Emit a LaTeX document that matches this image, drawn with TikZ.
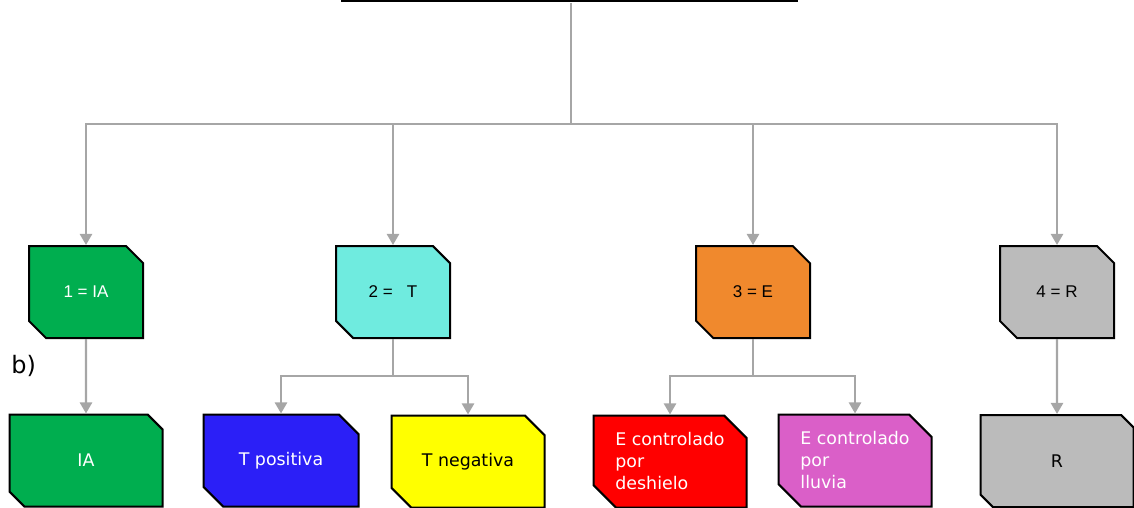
\documentclass[tikz,border=0pt]{standalone}
\usepackage{fontspec}
\setmainfont{DejaVu Sans}
\newfontfamily\arialfont{Liberation Sans}
\usetikzlibrary{arrows.meta,shapes.misc}

\definecolor{gris}{HTML}{A6A6A6}
\definecolor{verde}{HTML}{00AE4F}
\definecolor{turquesa}{HTML}{6FEBDF}
\definecolor{naranja}{HTML}{F0892D}
\definecolor{plomo}{HTML}{BBBBBB}
\definecolor{azul}{HTML}{2B1FF7}
\definecolor{amarillo}{HTML}{FFFF00}
\definecolor{rojo}{HTML}{FF0000}
\definecolor{magenta}{HTML}{DA5FC8}

\begin{document}
\begin{tikzpicture}[x=0.5pt,y=-0.5pt,
    caja/.style={chamfered rectangle,
      chamfered rectangle corners={north east,south west},
      chamfered rectangle xsep=5.6pt, chamfered rectangle ysep=5.6pt,
      draw=black, line width=1pt, inner sep=0pt,
      minimum width=57pt, minimum height=46pt,
      font=\arialfont\fontsize{8.5}{10}\selectfont},
    subcaja/.style={caja, minimum width=76.5pt, minimum height=46pt,
      align=left, font=\fontsize{8.7}{11}\selectfont},
    linea/.style={draw=gris, line width=1.2pt},
    flecha/.style={linea, -{Triangle[width=6pt,length=5.5pt]}}]
  \useasboundingbox (0,0) rectangle (1134,508);

  % table on top (only its lower edge is seen)
  \node[draw=black, line width=1.2pt, minimum width=227.5pt, minimum height=30pt,
    anchor=south, inner sep=0pt] (tabla) at (569.5,2.5) {};
  \draw[line width=1pt] (412,2) -- (412,-40);
  \draw[line width=1pt] (540,2) -- (540,-40);
  \draw[line width=1pt] (668,2) -- (668,-40);

  % first level
  \node[caja, fill=verde, text=white] (n1) at (86,292) {1 = IA};
  \node[caja, fill=turquesa] (n2) at (393,292) {2 =\ \ \ T};
  \node[caja, fill=naranja] (n3) at (753,292) {3 = E};
  \node[caja, fill=plomo] (n4) at (1057,292) {4 = R};

  \coordinate (tronco) at (571,3);
  \coordinate (bus) at (571,124);
  \draw[linea] (tronco) -- (bus);
  \draw[flecha] (bus) -| (n1);
  \draw[flecha] (bus) -| (n2);
  \draw[flecha] (bus) -| (n3);
  \draw[flecha] (bus) -| (n4);

  \node[font=\fontsize{12}{14}\selectfont, anchor=base west, inner sep=0pt] (etiq) at (11,373) {b)};

  % second level
  \node[subcaja, fill=verde, text=white] (ia) at (86,460.5) {IA};
  \node[subcaja, fill=azul, text=white, minimum width=77.5pt] (tpos) at (281,460.5) {T positiva};
  \node[subcaja, fill=amarillo] (tneg) at (468,461.5) {T negativa};
  \node[subcaja, fill=rojo, text=white] (edes) at (670,461.5) {E controlado\\por\\deshielo};
  \node[subcaja, fill=magenta, text=white] (ellu) at (855,460.5) {E controlado\\por\\lluvia};
  \node[subcaja, fill=plomo] (r) at (1057,461) {R};

  \coordinate (b2) at (393,376);
  \coordinate (b3) at (753,376);
  \draw[flecha] (n1) -- (ia);
  \draw[linea] (n2) -- (b2);
  \draw[flecha] (b2) -| (tpos);
  \draw[flecha] (b2) -| (tneg);
  \draw[linea] (n3) -- (b3);
  \draw[flecha] (b3) -| (edes);
  \draw[flecha] (b3) -| (ellu);
  \draw[flecha] (n4) -- (r);
\end{tikzpicture}
\end{document}
